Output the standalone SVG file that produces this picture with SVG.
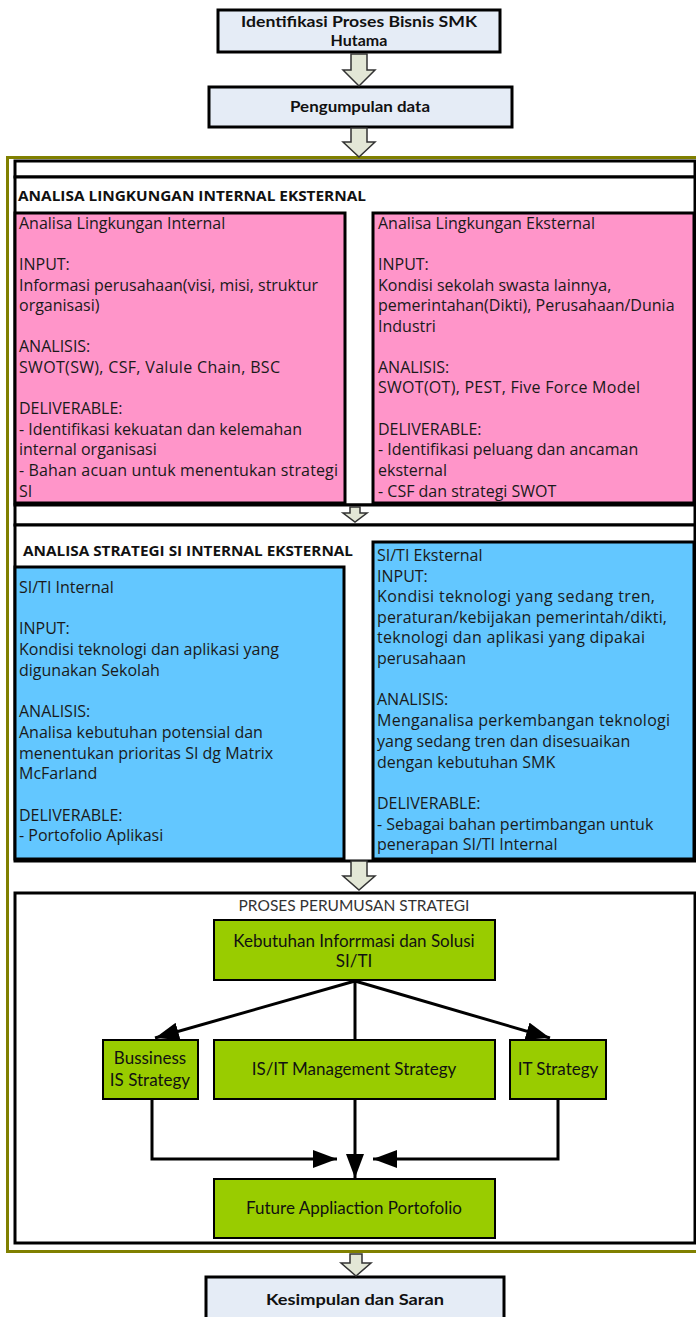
<svg xmlns="http://www.w3.org/2000/svg" width="696" height="1317" viewBox="0 0 696 1317">
<defs>
<marker id="ah" viewBox="0 0 24 18" refX="24" refY="9" markerWidth="24" markerHeight="18" markerUnits="userSpaceOnUse" orient="auto"><path d="M0,0 L24,9 L0,18 z" fill="#000"/></marker>
</defs>
<style>
.pb{fill:#e5ecf6;stroke:#000;stroke-width:3}
.wb{fill:#fff;stroke:#000;stroke-width:3}
.pk{fill:#ff95c9;stroke:#000;stroke-width:3}
.bl{fill:#63c7ff;stroke:#000;stroke-width:3}
.gr{fill:#99cc00;stroke:#000;stroke-width:2}
.ha{fill:#e3e7d6;stroke:#333;stroke-width:1.5}
.ln{fill:none;stroke:#000;stroke-width:3}
.t{font-family:"Open Sans","DejaVu Sans",sans-serif;font-size:16px;fill:#1a1a1a}
.h{font-family:"Open Sans","DejaVu Sans",sans-serif;font-size:15px;font-weight:bold;fill:#111}
.tb{font-family:Lato,"Liberation Sans",sans-serif;font-size:16px;font-weight:bold;fill:#111;text-anchor:middle}
.g{font-family:Lato,"Liberation Sans",sans-serif;font-size:17px;fill:#111;text-anchor:middle}
.s{font-family:Lato,"Liberation Sans",sans-serif;font-size:15.5px;fill:#333;text-anchor:middle}
</style>
<rect x="0" y="0" width="696" height="1317" fill="#fff"/>
<rect x="7.5" y="157.5" width="700" height="1094" fill="none" stroke="#808000" stroke-width="3"/>
<g id="n-identifikasi">
<rect class="pb" x="218" y="10" width="282" height="42"/>
<text class="tb" x="359" y="27" textLength="236" lengthAdjust="spacingAndGlyphs">Identifikasi Proses Bisnis SMK</text>
<text class="tb" x="359" y="46">Hutama</text>
</g>
<g id="n-pengumpulan">
<rect class="pb" x="209" y="87" width="303" height="40"/>
<text class="tb" x="360" y="112" textLength="140" lengthAdjust="spacingAndGlyphs">Pengumpulan data</text>
</g>
<g id="n-analisa-lingkungan">
<rect class="wb" x="15" y="161" width="680" height="16"/>
<rect class="wb" x="15" y="177" width="680" height="328"/>
<text class="h" x="18" y="201" textLength="348" lengthAdjust="spacingAndGlyphs">ANALISA LINGKUNGAN INTERNAL EKSTERNAL</text>
</g>
<g id="n-ling-internal">
<rect class="pk" x="15" y="213" width="330" height="290"/>
<text class="t" x="19" y="229">Analisa Lingkungan Internal</text>
<text class="t" x="19" y="270">INPUT:</text>
<text class="t" x="19" y="291" textLength="299">Informasi perusahaan(visi, misi, struktur</text>
<text class="t" x="19" y="311">organisasi)</text>
<text class="t" x="19" y="352">ANALISIS:</text>
<text class="t" x="19" y="373" textLength="261">SWOT(SW), CSF, Valule Chain, BSC</text>
<text class="t" x="19" y="414">DELIVERABLE:</text>
<text class="t" x="19" y="435">- Identifikasi kekuatan dan kelemahan</text>
<text class="t" x="19" y="455">internal organisasi</text>
<text class="t" x="19" y="476" textLength="319">- Bahan acuan untuk menentukan strategi</text>
<text class="t" x="19" y="497">SI</text>
</g>
<g id="n-ling-eksternal">
<rect class="pk" x="373" y="213" width="321" height="290"/>
<text class="t" x="378" y="229">Analisa Lingkungan Eksternal</text>
<text class="t" x="378" y="270">INPUT:</text>
<text class="t" x="378" y="291">Kondisi sekolah swasta lainnya,</text>
<text class="t" x="378" y="311">pemerintahan(Dikti), Perusahaan/Dunia</text>
<text class="t" x="378" y="332">Industri</text>
<text class="t" x="378" y="373">ANALISIS:</text>
<text class="t" x="378" y="393" textLength="262">SWOT(OT), PEST, Five Force Model</text>
<text class="t" x="378" y="435">DELIVERABLE:</text>
<text class="t" x="378" y="455">- Identifikasi peluang  dan ancaman</text>
<text class="t" x="378" y="476">eksternal</text>
<text class="t" x="378" y="497">- CSF dan strategi SWOT</text>
</g>
<g id="n-strip">
<rect class="wb" x="15" y="505" width="680" height="20"/>
</g>
<g id="n-analisa-strategi">
<rect class="wb" x="15" y="525" width="680" height="336"/>
<text class="h" x="23" y="556" textLength="330" lengthAdjust="spacingAndGlyphs">ANALISA STRATEGI SI INTERNAL EKSTERNAL</text>
</g>
<g id="n-siti-internal">
<rect class="bl" x="15" y="567" width="329" height="292"/>
<text class="t" x="19" y="593">SI/TI  Internal</text>
<text class="t" x="19" y="634">INPUT:</text>
<text class="t" x="19" y="655">Kondisi  teknologi dan aplikasi yang</text>
<text class="t" x="19" y="676">digunakan Sekolah</text>
<text class="t" x="19" y="717">ANALISIS:</text>
<text class="t" x="19" y="738">Analisa kebutuhan potensial dan</text>
<text class="t" x="19" y="759">menentukan prioritas SI dg Matrix</text>
<text class="t" x="19" y="779">McFarland</text>
<text class="t" x="19" y="821">DELIVERABLE:</text>
<text class="t" x="19" y="841">- Portofolio Aplikasi</text>
</g>
<g id="n-siti-eksternal">
<rect class="bl" x="373" y="542" width="321" height="317"/>
<text class="t" x="377" y="561">SI/TI  Eksternal</text>
<text class="t" x="377" y="582">INPUT:</text>
<text class="t" x="377" y="602" textLength="278">Kondisi  teknologi yang sedang tren,</text>
<text class="t" x="377" y="623" textLength="290">peraturan/kebijakan pemerintah/dikti,</text>
<text class="t" x="377" y="643" textLength="268">teknologi dan aplikasi yang dipakai</text>
<text class="t" x="377" y="664">perusahaan</text>
<text class="t" x="377" y="705">ANALISIS:</text>
<text class="t" x="377" y="726" textLength="293">Menganalisa perkembangan teknologi</text>
<text class="t" x="377" y="747">yang sedang tren dan disesuaikan</text>
<text class="t" x="377" y="768">dengan kebutuhan SMK</text>
<text class="t" x="377" y="809">DELIVERABLE:</text>
<text class="t" x="377" y="830">- Sebagai bahan pertimbangan untuk</text>
<text class="t" x="377" y="850">penerapan SI/TI Internal</text>
</g>
<g id="n-proses">
<rect class="wb" x="15" y="893" width="680" height="350"/>
<text class="s" x="354" y="911">PROSES PERUMUSAN  STRATEGI</text>
</g>
<g id="n-kebutuhan">
<rect class="gr" x="214" y="920" width="281" height="60"/>
<text class="g" x="354" y="947">Kebutuhan Inforrmasi dan Solusi</text>
<text class="g" x="354" y="967">SI/TI</text>
</g>
<g id="n-bussiness">
<rect class="gr" x="103" y="1040" width="95" height="59"/>
<text class="g" x="150" y="1064">Bussiness</text>
<text class="g" x="150" y="1086">IS Strategy</text>
</g>
<g id="n-isit">
<rect class="gr" x="214" y="1040" width="281" height="59"/>
<text class="g" x="354" y="1075">IS/IT Management Strategy</text>
</g>
<g id="n-it">
<rect class="gr" x="510" y="1040" width="96" height="59"/>
<text class="g" x="558" y="1075">IT Strategy</text>
</g>
<g id="n-future">
<rect class="gr" x="214" y="1179" width="281" height="59"/>
<text class="g" x="354" y="1214">Future Appliaction Portofolio</text>
</g>
<g id="n-kesimpulan">
<rect class="pb" x="206" y="1277" width="298" height="50"/>
<text class="tb" x="355" y="1305" textLength="178" lengthAdjust="spacingAndGlyphs">Kesimpulan dan Saran</text>
</g>
<g id="connectors">
<polygon class="ha" points="351,54 367,54 367,70 375,70 359,86 343,70 351,70"/>
<polygon class="ha" points="351,128 367,128 367,142 375,142 359,157 343,142 351,142"/>
<polygon class="ha" points="350,507 360,507 360,513 367,513 355,522 343,513 350,513"/>
<polygon class="ha" points="351,861 367,861 367,876 375,876 359,890 343,876 351,876"/>
<polygon class="ha" points="350,1254 362,1254 362,1263 371,1263 356,1276 341,1263 350,1263"/>
<line class="ln" x1="355" y1="981" x2="155" y2="1038" marker-end="url(#ah)"/>
<line class="ln" x1="355" y1="981" x2="550" y2="1038" marker-end="url(#ah)"/>
<line class="ln" x1="355" y1="981" x2="355" y2="1040"/>
<polyline class="ln" points="152,1099 152,1159 337,1159" marker-end="url(#ah)"/>
<line class="ln" x1="355" y1="1099" x2="355" y2="1178" marker-end="url(#ah)"/>
<polyline class="ln" points="558,1099 558,1159 373,1159" marker-end="url(#ah)"/>
</g>
</svg>
